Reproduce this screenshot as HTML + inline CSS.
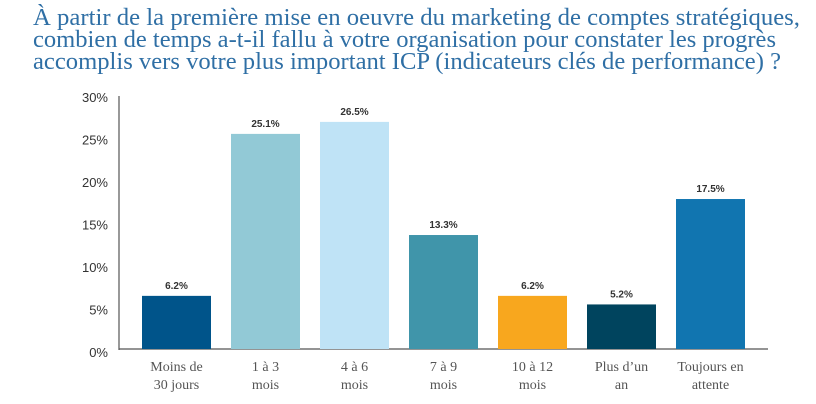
<!DOCTYPE html>
<html><head><meta charset="utf-8"><style>
body{margin:0;background:#fff;width:816px;height:404px;overflow:hidden;}
svg{display:block}
</style></head><body>
<svg width="816" height="404">
<g font-family="'Liberation Serif',serif" font-size="24" fill="#2f6fa5">
<text x="33" y="25" textLength="767" lengthAdjust="spacingAndGlyphs">À partir de la première mise en oeuvre du marketing de comptes stratégiques,</text>
<text x="33" y="47" textLength="743" lengthAdjust="spacingAndGlyphs">combien de temps a-t-il fallu à votre organisation pour constater les progrès</text>
<text x="33" y="69" textLength="748" lengthAdjust="spacingAndGlyphs">accomplis vers votre plus important ICP (indicateurs clés de performance) ?</text>
</g>
<g id="axes"></g><g id="bars"></g>
</svg>
<script>
const categories=[["Moins de","30 jours"],["1 à 3","mois"],["4 à 6","mois"],["7 à 9","mois"],["10 à 12","mois"],["Plus d’un","an"],["Toujours en","attente"]];
const values=[6.2,25.1,26.5,13.3,6.2,5.2,17.5];
const colors=["#00548a","#92c9d6","#bfe3f6","#4095aa","#f8a71e","#00445e","#1175b0"];
const ticks=[0,5,10,15,20,25,30];
const y0=349,pxPer=8.57,x0=119,pitch=89,barW=69,firstLeft=142;
const y=v=>y0-v*pxPer;
const ns="http://www.w3.org/2000/svg";
function mk(t,a,p){const e=document.createElementNS(ns,t);for(const k in a)e.setAttribute(k,a[k]);p.appendChild(e);return e;}
const ax=document.getElementById('axes'),bg=document.getElementById('bars');
const yl=mk('line',{x1:x0,y1:96,x2:x0,y2:y0+1,stroke:'#555','stroke-width':1.2},ax);


const xl=mk('line',{x1:x0,y1:y0,x2:768,y2:y0,stroke:'#555','stroke-width':1.2},ax);


ticks.forEach(t=>{const e=mk('text',{x:108,y:y0+8-t*8.5,'text-anchor':'end','font-family':'Liberation Sans,sans-serif','font-size':13,fill:'#333'},ax);e.textContent=t+'%';

});
values.forEach((v,i)=>{const left=firstLeft+i*pitch,cx=left+barW/2;
const r=mk('rect',{x:left,y:y(v),width:barW,height:y0-y(v),fill:colors[i]},bg);


const l=mk('text',{x:cx,y:y(v)-7,'text-anchor':'middle','font-family':'Liberation Sans,sans-serif','font-size':10,'font-weight':'bold',fill:'#333'},bg);l.textContent=v.toFixed(1)+'%';


categories[i].forEach((s,j)=>{const c=mk('text',{x:cx,y:371+j*18,'text-anchor':'middle','font-family':'Liberation Serif,serif','font-size':14,fill:'#555'},bg);c.textContent=s;

});});
</script>
</body></html>
